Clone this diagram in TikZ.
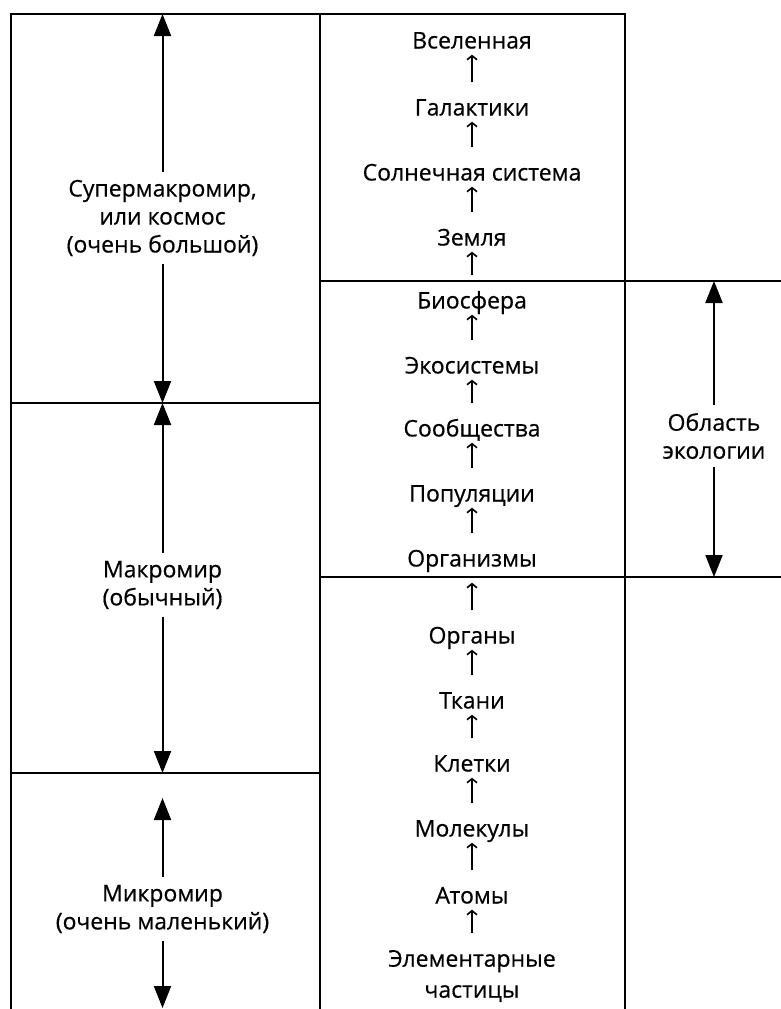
\documentclass[tikz,border=0pt]{standalone}
\usepackage{fontspec}
\setmainfont{Open Sans}[FakeBold=0.5]
\usetikzlibrary{arrows.meta}

\begin{document}
\begin{tikzpicture}[x=1pt, y=-1pt,
                    >={Straight Barb[length=4pt,width=10pt]},
                    level/.style={align=center, font=\fontsize{23}{31}\selectfont, inner sep=0pt, text height=16pt, text depth=5pt},
                    world/.style={align=center, font=\fontsize{23}{28}\selectfont, inner sep=4pt},
                    frame/.style={line width=2pt},
                    lvlarrow/.style={->, line width=1.6pt, shorten <=17pt, shorten >=1pt},
                    bigarrow/.style={-{Triangle[length=22pt,width=17pt]}, line width=2pt, shorten <=4pt}]

\useasboundingbox (0,0) rectangle (781,1009);

\draw [frame] (11,1009) -- (11,14) -- (625,14) -- (625,1009);
\draw [frame] (320,14) -- (320,1009);
\draw [frame] (11,403) -- (320,403);
\draw [frame] (11,773) -- (320,773);
\draw [frame] (320,281) -- (781,281);
\draw [frame] (320,577) -- (781,577);

\node [level] (universe) at (472,43) {Вселенная};
\node [level] (galaxies) at (472,110) {Галактики};
\node [level] (solar) at (472,175) {Солнечная система};
\node [level] (earth) at (472,240) {Земля};
\node [level] (biosphere) at (472,303) {Биосфера};
\node [level] (ecosystems) at (472,368) {Экосистемы};
\node [level] (communities) at (472,431) {Сообщества};
\node [level] (populations) at (472,496) {Популяции};
\node [level] (organisms) at (472,561) {Организмы};
\node [level] (organs) at (472,638) {Органы};
\node [level] (tissues) at (472,703) {Ткани};
\node [level] (cells) at (472,766) {Клетки};
\node [level] (molecules) at (472,831) {Молекулы};
\node [level] (atoms) at (472,898) {Атомы};
\node [level, text height=, text depth=] (particles) at (472,976) {Элементарные\\частицы};

\draw [lvlarrow] (galaxies) -- (universe);
\draw [lvlarrow] (solar) -- (galaxies);
\draw [lvlarrow] (earth) -- (solar);
\draw [lvlarrow] (biosphere) -- (earth);
\draw [lvlarrow] (ecosystems) -- (biosphere);
\draw [lvlarrow] (communities) -- (ecosystems);
\draw [lvlarrow] (populations) -- (communities);
\draw [lvlarrow] (organisms) -- (populations);
\draw [lvlarrow, shorten >=11pt] (organs) -- (organisms);
\draw [lvlarrow] (tissues) -- (organs);
\draw [lvlarrow] (cells) -- (tissues);
\draw [lvlarrow] (molecules) -- (cells);
\draw [lvlarrow] (atoms) -- (molecules);
\draw [lvlarrow] (particles) -- (atoms);

\node [world] (super) at (162.5,218) {Супермакромир,\\или космос\\(очень большой)};
\node [world] (macro) at (162.5,585) {Макромир\\(обычный)};
\node [world] (micro) at (162.5,909) {Микромир\\(очень маленький)};
\node [world] (ecology) at (714,436) {Область\\экологии};

\coordinate (supertop) at (162.5,14);
\coordinate (superbot) at (162.5,403);
\coordinate (macrotop) at (162.5,403);
\coordinate (macrobot) at (162.5,773);
\coordinate (microtop) at (162.5,798);
\coordinate (microbot) at (162.5,1008);
\coordinate (ecotop) at (714,281);
\coordinate (ecobot) at (714,577);

\draw [bigarrow] (super) -- (supertop);
\draw [bigarrow] (super) -- (superbot);
\draw [bigarrow] (macro) -- (macrotop);
\draw [bigarrow] (macro) -- (macrobot);
\draw [bigarrow] (micro) -- (microtop);
\draw [bigarrow] (micro) -- (microbot);
\draw [bigarrow] (ecology) -- (ecotop);
\draw [bigarrow] (ecology) -- (ecobot);

\end{tikzpicture}
\end{document}
